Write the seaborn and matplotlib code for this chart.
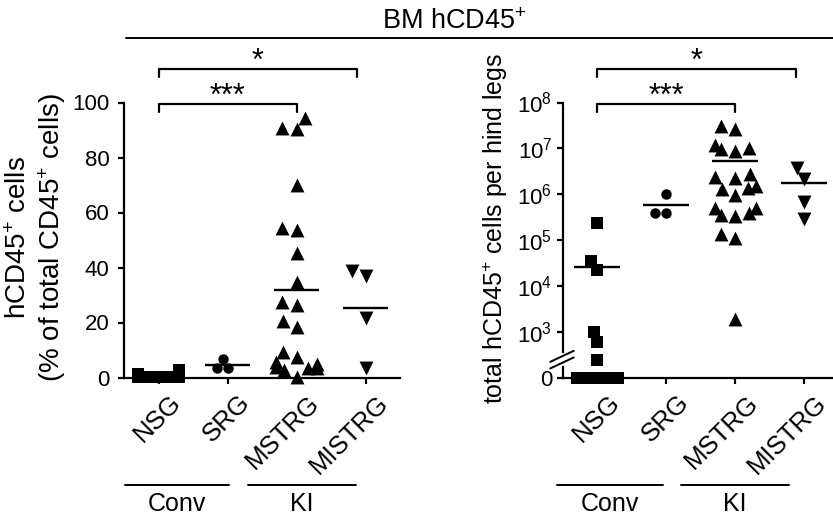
import numpy as np
import pandas as pd
import seaborn as sns
import matplotlib.pyplot as plt
from matplotlib.lines import Line2D
from matplotlib.ticker import NullLocator
from matplotlib.transforms import ScaledTranslation, blended_transform_factory

groups = ['NSG', 'SRG', 'MSTRG', 'MISTRG']
markers = ['s', 'o', '^', 'v']
msizes = [8, 7.5, 10, 10]

# % hCD45+ of total CD45+ cells
pct_nsg = [2.8, 1.2, 0.8, 0.5, 0.4, 0.3, 0.2, 0.2, 0.1, 0.1, 0.1]
pct_srg = [6.7, 3.3, 3.5]
pct_mstrg = [94.3, 90.3, 90.9, 70.1, 53.6, 54.2, 45.2, 34.8, 27.6, 26.3, 20.5,
             18.4, 9.3, 7.4, 5.5, 5.0, 4.0, 3.5, 3.5, 2.8, 0.3]
pct_mistrg = [37.0, 38.9, 21.8, 3.3]

# total hCD45+ cells per hind legs
cnt_nsg = [2.3e5, 3.5e4, 2.2e4, 1.0e3, 770, 380, 0, 0, 0, 0, 0]
cnt_srg = [1.0e6, 3.9e5, 3.9e5]
cnt_mstrg = [2.6e7, 3.1e7, 1.17e7, 9.6e6, 8.7e6, 1.0e7, 2.4e6, 2.7e6, 2.3e6,
             1.47e6, 1.35e6, 1.3e6, 9.8e5, 5.1e5, 5.0e5, 3.9e5, 3.3e5, 3.6e5,
             1.33e5, 1.12e5, 1.86e3]
cnt_mistrg = [3.8e6, 2.1e6, 6.9e5, 2.9e5]

# groups sit 4/3 apart so the swarm (0.8 of the spacing) spans 0.6 of a slot
step = 4 / 3
pos = [i * step for i in range(len(groups))]


def long_df(values):
    rows = []
    for p, vals in zip(pos, values):
        rows += [(p, v) for v in vals]
    return pd.DataFrame(rows, columns=['x', 'value'])


df_pct = long_df([pct_nsg, pct_srg, pct_mstrg, pct_mistrg])
df_cnt = long_df([cnt_nsg, cnt_srg, cnt_mstrg, cnt_mistrg])

sns.set_style('ticks')
plt.rcParams['font.family'] = ['Liberation Sans', 'DejaVu Sans']
plt.rcParams['mathtext.fontset'] = 'custom'
plt.rcParams['mathtext.rm'] = 'Liberation Sans'
plt.rcParams['mathtext.it'] = 'Liberation Sans:italic'
plt.rcParams['mathtext.bf'] = 'Liberation Sans:bold'
plt.rcParams['font.size'] = 16
for k in ['text.color', 'axes.labelcolor', 'xtick.color', 'ytick.color', 'axes.edgecolor']:
    plt.rcParams[k] = 'black'

W, H = 833, 519
fig = plt.figure(figsize=(W / 100, H / 100), dpi=100)
ax1 = fig.add_axes([124 / W, 1 - 377.5 / H, 276 / W, 275 / H])
ax2 = fig.add_axes([562.7 / W, 1 - 377.5 / H, 276 / W, 275 / H])


def draw_panel(ax, df):
    for p, m, s in zip(pos, markers, msizes):
        sns.swarmplot(data=df[df.x == p], x='x', y='value', native_scale=True,
                      marker=m, size=s, color='black', linewidth=0,
                      warn_thresh=1, clip_on=False, zorder=3, ax=ax)
    means = df.groupby('x')['value'].mean().reindex(pos)
    ax.hlines(means.values, np.array(pos) - 0.44, np.array(pos) + 0.44,
              color='black', lw=1.7, zorder=4)
    ax.set_xlim(-0.5 * step, 3.5 * step)
    ax.set_xlabel('')
    ax.set_ylabel('')
    for sp in ['top', 'right']:
        ax.spines[sp].set_visible(False)
    for sp in ['left', 'bottom']:
        ax.spines[sp].set_linewidth(1.6)
    ax.tick_params(width=1.6, length=4.5, labelsize=16, pad=3)
    ax.set_xticks(pos)
    ax.set_xticklabels(groups, rotation=45, ha='right', va='center',
                       rotation_mode='anchor', fontsize=18.5)
    off = ScaledTranslation(19 / 100, -11 / 100, fig.dpi_scale_trans)
    for lab in ax.get_xticklabels():
        lab.set_transform(lab.get_transform() + off)

    # significance brackets
    tr = blended_transform_factory(ax.transData, ax.transAxes)
    for x0, x1, yb, yt, txt in [(pos[0], pos[2], 0.995, 1.020, '***'),
                                (pos[0], pos[3] - 0.12 * step, 1.122, 1.147, '*')]:
        ax.add_line(Line2D([x0, x0, x1, x1], [yb - 0.028, yb, yb, yb - 0.028],
                           transform=tr, color='black', lw=1.6, clip_on=False))
        ax.text((x0 + x1) / 2, yt, txt, transform=tr, ha='center',
                va='center', fontsize=22)


draw_panel(ax1, df_pct)
ax1.set_ylim(0, 100)
ax1.set_yticks([0, 20, 40, 60, 80, 100])
ax1.tick_params(axis='y', pad=6)

draw_panel(ax2, df_cnt)
ax2.set_yscale('symlog', linthresh=1000, linscale=0.9)
ax2.set_ylim(0, 1e8)
yt = [0] + [10 ** k for k in range(3, 9)]
ax2.set_yticks(yt)
ax2.set_yticklabels(['0'] + [r'$\mathregular{10^{%d}}$' % k for k in range(3, 9)])
ax2.yaxis.set_minor_locator(NullLocator())

# axis break on the right panel
bt = ax2.transAxes
ax2.add_line(Line2D([0, 0], [0.050, 0.082], transform=bt, color='white', lw=3,
                    clip_on=False, zorder=5))
for dy in [0.0, 0.024]:
    ax2.add_line(Line2D([-0.045, 0.04], [0.033 + dy, 0.073 + dy], transform=bt,
                        color='black', lw=1.4, clip_on=False, zorder=6))

# Conv / KI group labels (in slot units, converted to axis positions)
for ax, conv, ki in [(ax1, (-0.49, 1.02), (1.29, 2.86)),
                     (ax2, (-0.58, 0.95), (1.22, 2.78))]:
    tr = blended_transform_factory(ax.transData, fig.transFigure)
    for (a, b), name in [(conv, 'Conv'), (ki, 'KI')]:
        ax.add_line(Line2D([a * step, b * step], [1 - 485 / H] * 2, transform=tr,
                           color='black', lw=1.4, clip_on=False))
        ax.text((a + b) / 2 * step, 1 - 504 / H, name, transform=tr, ha='center',
                va='center', fontsize=18)

# y labels
fig.text(37 / W, 1 - 238 / H,
         'hCD45$\\mathregular{^{+}}$ cells\n(% of total CD45$\\mathregular{^{+}}$ cells)',
         rotation=90, ha='center', va='center', multialignment='center', fontsize=20)
fig.text(495 / W, 1 - 228 / H, 'total hCD45$\\mathregular{^{+}}$ cells per hind legs',
         rotation=90, ha='center', va='center', fontsize=18)

# overall header
fig.text(455 / W, 1 - 22 / H, 'BM hCD45$\\mathregular{^{+}}$', ha='center', va='center',
         fontsize=19.5)
fig.add_artist(Line2D([126 / W, 1.0], [1 - 38 / H] * 2, transform=fig.transFigure,
                      color='black', lw=1.4))

fig.savefig('out.png', dpi=100)
